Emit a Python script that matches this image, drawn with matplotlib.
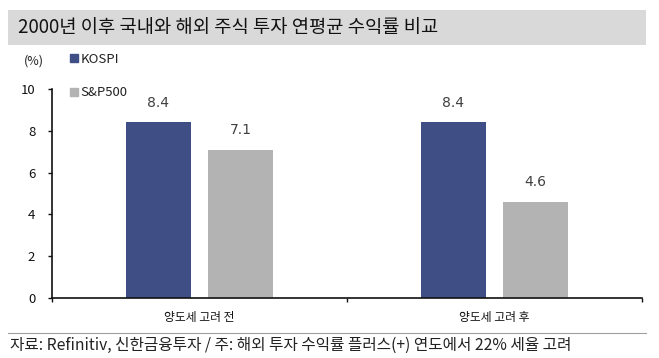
import matplotlib
matplotlib.use("Agg")
import matplotlib.pyplot as plt
import numpy as np
from matplotlib.patches import Rectangle
from matplotlib.lines import Line2D

plt.rcParams['font.family'] = ['Noto Sans CJK KR', 'DejaVu Sans']

categories = ['양도세 고려 전', '양도세 고려 후']
kospi = [8.4, 8.4]
sp500 = [7.1, 4.6]
series_names = ['KOSPI', 'S&P500']
yticks = [0, 2, 4, 6, 8, 10]

title = '2000년 이후 국내와 해외 주식 투자 연평균 수익률 비교'
source = '자료: Refinitiv, 신한금융투자 / 주: 해외 투자 수익률 플러스(+) 연도에서 22% 세율 고려'

c_kospi = '#3F4F85'
c_sp = '#B3B3B3'

W, H = 659, 358
fig = plt.figure(figsize=(W / 100, H / 100), dpi=100)

def fx(px):
    return px / W

def fy(py):
    return 1 - py / H

# title band
fig.patches.append(Rectangle((fx(8), fy(45)), fx(646) - fx(8), fy(10) - fy(45),
                             transform=fig.transFigure, facecolor='#D9D9D9',
                             edgecolor='none', zorder=0))
fig.text(fx(18), fy(28), title, fontsize=13.5, va='center', ha='left', color='#111111')

ax = fig.add_axes([fx(52), fy(298), fx(642) - fx(52), fy(89) - fy(298)])
x = np.arange(len(categories))
bw = 0.22
off = 0.14
b1 = ax.bar(x - off, kospi, bw, color=c_kospi, label=series_names[0], zorder=2)
b2 = ax.bar(x + off, sp500, bw, color=c_sp, label=series_names[1], zorder=2)
for bars, vals in ((b1, kospi), (b2, sp500)):
    for r, v in zip(bars, vals):
        ax.text(r.get_x() + r.get_width() / 2, v + 0.6, f'{v:.1f}', ha='center', va='bottom',
                fontsize=10, color='#404040', family='DejaVu Sans')

ax.set_xlim(-0.5, 1.5)
ax.set_ylim(0, 10)
ax.set_yticks(yticks)
ax.set_yticklabels([str(t) for t in yticks], fontsize=9.5, color='#111111')
ax.set_xticks([-0.5, 0.5, 1.5])
ax.set_xticklabels([])
ax.tick_params(axis='both', direction='out', length=3, width=1, color='#111111')
ax.tick_params(axis='y', pad=9)
for s in ('top', 'right'):
    ax.spines[s].set_visible(False)
for s in ('left', 'bottom'):
    ax.spines[s].set_linewidth(1.2)
    ax.spines[s].set_color('#111111')
for i, c in enumerate(categories):
    ax.text(i, -0.95, c, ha='center', va='center', fontsize=8.5, color='#111111',
            transform=ax.transData)

# legend
fig.text(fx(24), fy(61), '(%)', fontsize=9, va='center', ha='left', color='#222222')
handles = [Line2D([], [], marker='s', linestyle='none', markersize=6, color=c_kospi),
           Line2D([], [], marker='s', linestyle='none', markersize=6, color=c_sp)]
leg = fig.legend(handles, series_names, loc='upper left', bbox_to_anchor=(fx(71), fy(53)),
                 frameon=False, fontsize=9.5, handlelength=0.5, handletextpad=0.2,
                 labelspacing=1.55, borderpad=0, borderaxespad=0)
for t in leg.get_texts():
    t.set_color('#222222')

# separator and source
fig.lines.append(Line2D([fx(8), fx(646)], [fy(333), fy(333)], transform=fig.transFigure,
                        color='#A0A0A0', linewidth=0.8))
fig.text(fx(10), fy(345), source, fontsize=11.3, va='center', ha='left', color='#222222')

fig.savefig('out.png', dpi=100)
